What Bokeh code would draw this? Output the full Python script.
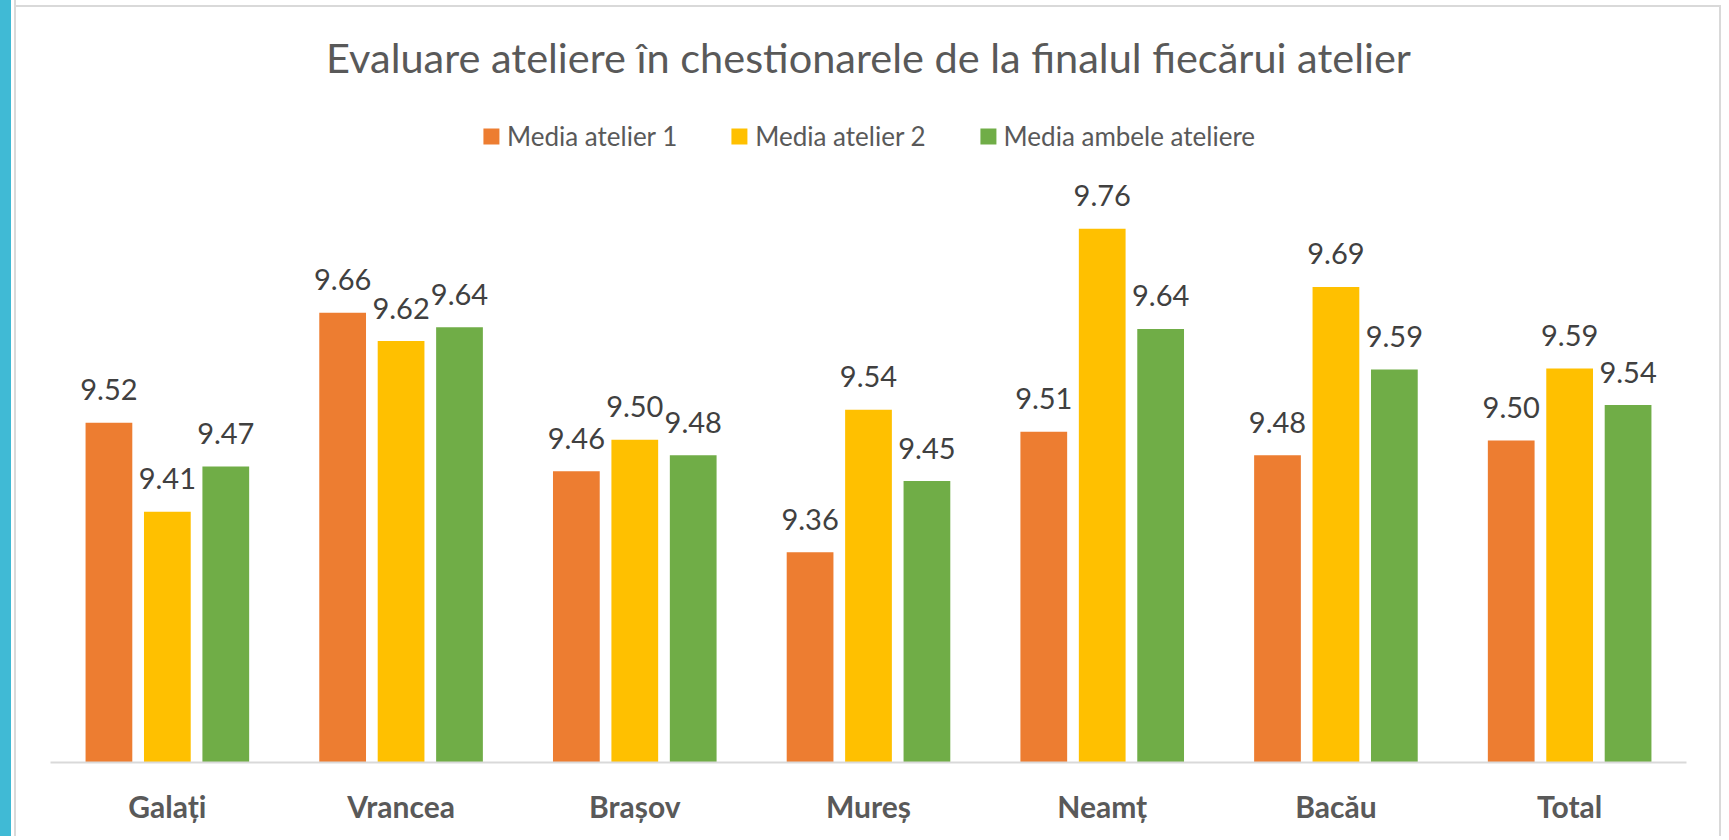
from bokeh.plotting import figure
from bokeh.models import (ColumnDataSource, FactorRange, Range1d, Legend, LegendItem, Div)
from bokeh.layouts import row, column
from bokeh.transform import dodge
from bokeh.core.properties import value
from bokeh.embed import file_html
from bokeh.resources import INLINE

# ---- data ----
categories = ["Galați", "Vrancea", "Brașov", "Mureș", "Neamț", "Bacău", "Total"]
atelier1 = [9.520, 9.656, 9.460, 9.360, 9.509, 9.480, 9.498]
atelier2 = [9.410, 9.621, 9.499, 9.536, 9.760, 9.688, 9.587]
ambele = [9.466, 9.638, 9.480, 9.448, 9.636, 9.586, 9.542]
series_names = ["Media atelier 1", "Media atelier 2", "Media ambele ateliere"]
colors = ["#ED7D31", "#FFC000", "#70AD47"]
title_text = "Evaluare ateliere în chestionarele de la finalul fiecărui atelier"
Y_MIN, Y_END = 9.1, 9.916

p = figure(x_range=FactorRange(*categories), y_range=Range1d(Y_MIN, Y_END),
           width=1703, height=828, output_backend="svg", toolbar_location=None,
           title=title_text, min_border_left=34, min_border_right=33,
           min_border_top=0, min_border_bottom=74, margin=(0, 0, 0, 0))
p.title.text_font = "Lato"
p.title.text_font_size = "41.5px"
p.title.text_font_style = "normal"
p.title.text_color = "#595959"
p.title.align = "center"
p.title.standoff = 0
p.title.padding = 21

p.yaxis.visible = False
p.xgrid.grid_line_color = None
p.ygrid.grid_line_color = None
p.outline_line_color = None
p.background_fill_color = "white"
p.border_fill_color = "white"

ax = p.xaxis[0]
ax.axis_line_color = "#D9D9D9"
ax.axis_line_width = 2
ax.major_tick_line_color = None
ax.minor_tick_line_color = None
ax.major_label_text_font = "Lato"
ax.major_label_text_font_style = "bold"
ax.major_label_text_font_size = "30px"
ax.major_label_text_color = "#595959"
ax.major_label_standoff = 19

offsets = [-0.25, 0.0, 0.25]
items = []
for name, vals, color, off in zip(series_names, [atelier1, atelier2, ambele], colors, offsets):
    src = ColumnDataSource(dict(x=categories, y=vals, label=[f"{v:.2f}" for v in vals]))
    r = p.vbar(x=dodge("x", off, range=p.x_range), top="y", bottom=Y_MIN, width=0.2,
               source=src, fill_color=color, line_color=None)
    p.text(x=dodge("x", off, range=p.x_range), y="y", text="label", source=src,
           text_align="center", text_baseline="middle", y_offset=-33,
           text_font=value("Lato"), text_font_size="29px", text_color="#404040")
    items.append(LegendItem(label=name, renderers=[r]))

legend = Legend(items=items, orientation="horizontal", location="top_center",
                glyph_width=20, glyph_height=20, label_standoff=6, spacing=52,
                padding=0, margin=18, border_line_color=None, background_fill_alpha=0,
                label_text_font="Lato", label_text_font_size="26px",
                label_text_color="#595959")
p.add_layout(legend)

left = Div(width=16, height=836, margin=(0, 0, 0, 0), styles={
    "background": "linear-gradient(to right, #40BAD5 0px, #40BAD5 11px, #FFFFFF 11px, "
                  "#FFFFFF 14px, #D9D9D9 14px, #D9D9D9 16px)"})
top = Div(width=1703, height=8, margin=(0, 0, 0, 0), styles={
    "background": "linear-gradient(to bottom, #FFFFFF 0px, #FFFFFF 5px, #D9D9D9 5px, "
                  "#D9D9D9 7px, #FFFFFF 7px)"})
right = Div(width=2, height=836, margin=(0, 0, 0, 0), styles={
    "background": "linear-gradient(to bottom, #FFFFFF 0px, #FFFFFF 5px, #D9D9D9 5px)"})

layout = row(children=[left, column(children=[top, p], spacing=0, margin=(0, 0, 0, 0)), right],
             spacing=0, margin=(0, 0, 0, 0))

open("out.html", "w").write(file_html(layout, INLINE))
